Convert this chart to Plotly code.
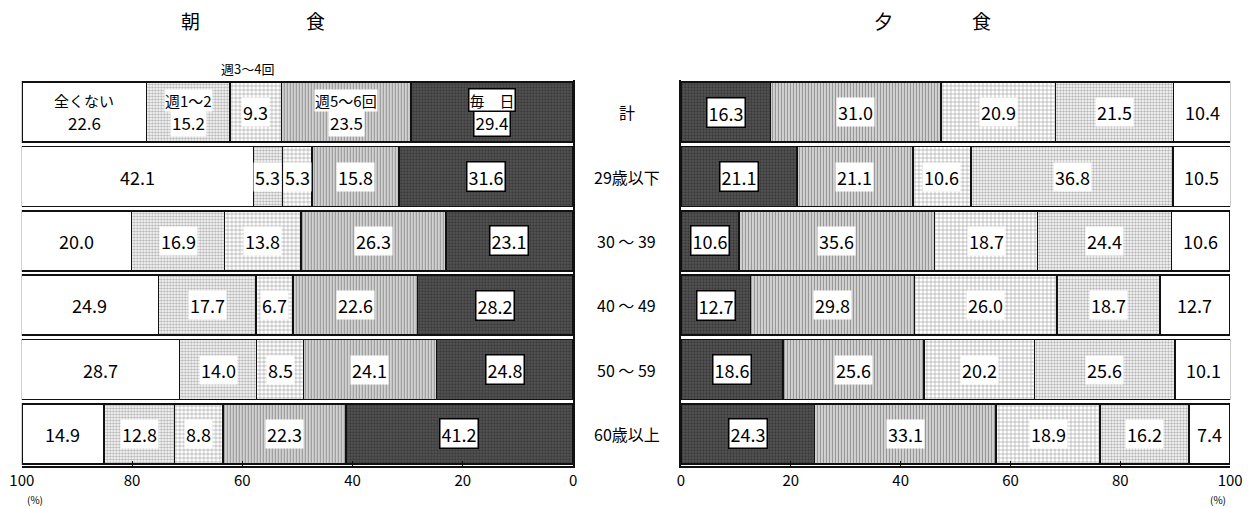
import plotly.graph_objects as go

# Age groups (rows, top to bottom)
groups = ["計", "29歳以下", "30 ～ 39", "40 ～ 49", "50 ～ 59", "60歳以上"]

# Frequency categories, stacked outward from 0
freq_names = ["毎　日", "週5～6回", "週3～4回", "週1～2", "全くない"]

# 朝食 (breakfast) percentages per frequency category
bf_daily = [29.4, 31.6, 23.1, 28.2, 24.8, 41.2]
bf_5to6 = [23.5, 15.8, 26.3, 22.6, 24.1, 22.3]
bf_3to4 = [9.3, 5.3, 13.8, 6.7, 8.5, 8.8]
bf_1to2 = [15.2, 5.3, 16.9, 17.7, 14.0, 12.8]
bf_never = [22.6, 42.1, 20.0, 24.9, 28.7, 14.9]

# 夕食 (dinner) percentages per frequency category
dn_daily = [16.3, 21.1, 10.6, 12.7, 18.6, 24.3]
dn_5to6 = [31.0, 21.1, 35.6, 29.8, 25.6, 33.1]
dn_3to4 = [20.9, 10.6, 18.7, 26.0, 20.2, 18.9]
dn_1to2 = [21.5, 36.8, 24.4, 18.7, 25.6, 16.2]
dn_never = [10.4, 10.5, 10.6, 12.7, 10.1, 7.4]

axis_ticks = [0, 20, 40, 60, 80, 100]

W, H = 1253, 508
M_TOP, M_BOT = 80, 42
PLOT_H = H - M_TOP - M_BOT

FONT = "Noto Sans CJK JP, sans-serif"


def px_to_paper_y(p):
    """Convert a pixel row (from top of the page) to paper y of the plot area."""
    return (H - M_BOT - p) / PLOT_H


styles = [
    dict(color="#4a4a4a",
         pattern=dict(shape=".", bgcolor="#555555", fgcolor="#1c1c1c", size=3, solidity=0.45)),
    dict(color="#888888",
         pattern=dict(shape="|", bgcolor="#ffffff", fgcolor="#2a2a2a", size=3, solidity=0.62)),
    dict(color="#ffffff",
         pattern=dict(shape="+", bgcolor="#ffffff", fgcolor="#222222", size=4, solidity=0.25)),
    dict(color="#dddddd",
         pattern=dict(shape=".", bgcolor="#ffffff", fgcolor="#707070", size=3, solidity=0.5)),
    dict(color="#ffffff"),
]

fig = go.Figure()

panels = [
    ("x", "y", [bf_daily, bf_5to6, bf_3to4, bf_1to2, bf_never]),
    ("x2", "y2", [dn_daily, dn_5to6, dn_3to4, dn_1to2, dn_never]),
]

for xa, ya, series in panels:
    for name, vals, st in zip(freq_names, series, styles):
        marker = dict(line=dict(color="#111111", width=1.6), color=st["color"])
        if "pattern" in st:
            marker["pattern"] = st["pattern"]
        fig.add_trace(go.Bar(
            y=groups, x=vals, name=name, orientation="h",
            marker=marker, xaxis=xa, yaxis=ya, showlegend=False,
            hoverinfo="x+y+name",
        ))

annotations = []

# Row-1 breakfast labels carry the category names above the values
first_row_names = ["毎　日", "週5～6回", None, "週1～2", "全くない"]


def box_style(ann, ci):
    if ci < 4:
        ann["bgcolor"] = "#ffffff"
    if ci == 0:
        ann["bordercolor"] = "#000000"
        ann["borderwidth"] = 1.5
    return ann


for pi, (xa, ya, series) in enumerate(panels):
    for gi, g in enumerate(groups):
        start = 0.0
        for ci, vals in enumerate(series):
            v = vals[gi]
            mid = start + v / 2
            start += v
            named = pi == 0 and gi == 0 and first_row_names[ci]
            ann = dict(x=mid, y=g, xref=xa, yref=ya, text=f"{v:.1f}", showarrow=False,
                       font=dict(family=FONT, size=17 if named else 18, color="#000"),
                       borderpad=1, yshift=-10 if named else 0)
            annotations.append(box_style(ann, ci))
            if named:
                lab = dict(x=mid, y=g, xref=xa, yref=ya, text=first_row_names[ci],
                           showarrow=False, font=dict(family=FONT, size=15, color="#000"),
                           borderpad=0, yshift=12)
                annotations.append(box_style(lab, ci))

# 週3～4回 label above the first breakfast row
mid34 = bf_daily[0] + bf_5to6[0] + bf_3to4[0] / 2
annotations.append(dict(x=mid34 + 1.5, y=groups[0], xref="x", yref="y", text="週3～4回",
                        showarrow=False, yshift=44,
                        font=dict(family=FONT, size=13, color="#000")))

# Centre row labels
for g in groups:
    annotations.append(dict(x=627 / W, y=g, xref="paper", yref="y", text=g,
                            showarrow=False, font=dict(family=FONT, size=16, color="#000")))

# Panel titles
for ch, px in [("朝", 170), ("食", 298), ("夕", 900), ("食", 1000)]:
    annotations.append(dict(x=px / W, y=px_to_paper_y(21), xref="paper", yref="paper",
                            yanchor="middle", text=ch, showarrow=False,
                            font=dict(family=FONT, size=19, color="#000")))

# (%) unit labels
annotations.append(dict(x=13 / W, y=px_to_paper_y(499), xref="paper", yref="paper",
                        text="(%)", showarrow=False, yanchor="middle",
                        font=dict(family=FONT, size=10, color="#000")))
annotations.append(dict(x=1240 / W, y=px_to_paper_y(499), xref="paper", yref="paper",
                        text="(%)", showarrow=False, yanchor="middle",
                        font=dict(family=FONT, size=10, color="#000")))

xaxis_common = dict(
    tickvals=axis_ticks, ticktext=[str(t) for t in axis_ticks],
    showgrid=False, zeroline=False, showline=True, linecolor="#111", linewidth=2,
    ticks="inside", ticklen=5, tickcolor="#111",
    tickfont=dict(family=FONT, size=15, color="#000"),
    fixedrange=True,
)

fig.update_layout(
    width=W, height=H, autosize=False,
    margin=dict(l=0, r=0, t=M_TOP, b=M_BOT),
    paper_bgcolor="#ffffff", plot_bgcolor="#ffffff",
    barmode="stack", bargap=0.07,
    xaxis=dict(domain=[10 / W, 572 / W], range=[100, 0], anchor="y", **xaxis_common),
    xaxis2=dict(domain=[682 / W, 1242 / W], range=[0, 100], anchor="y2", **xaxis_common),
    yaxis=dict(anchor="x", autorange="reversed", showticklabels=False, showgrid=False,
               showline=True, linecolor="#111", linewidth=2, side="right", ticks=""),
    yaxis2=dict(anchor="x2", autorange="reversed", showticklabels=False, showgrid=False,
                showline=True, linecolor="#111", linewidth=2, side="left", ticks=""),
    annotations=annotations,
    font=dict(family=FONT),
)

fig.write_html("out.html")
